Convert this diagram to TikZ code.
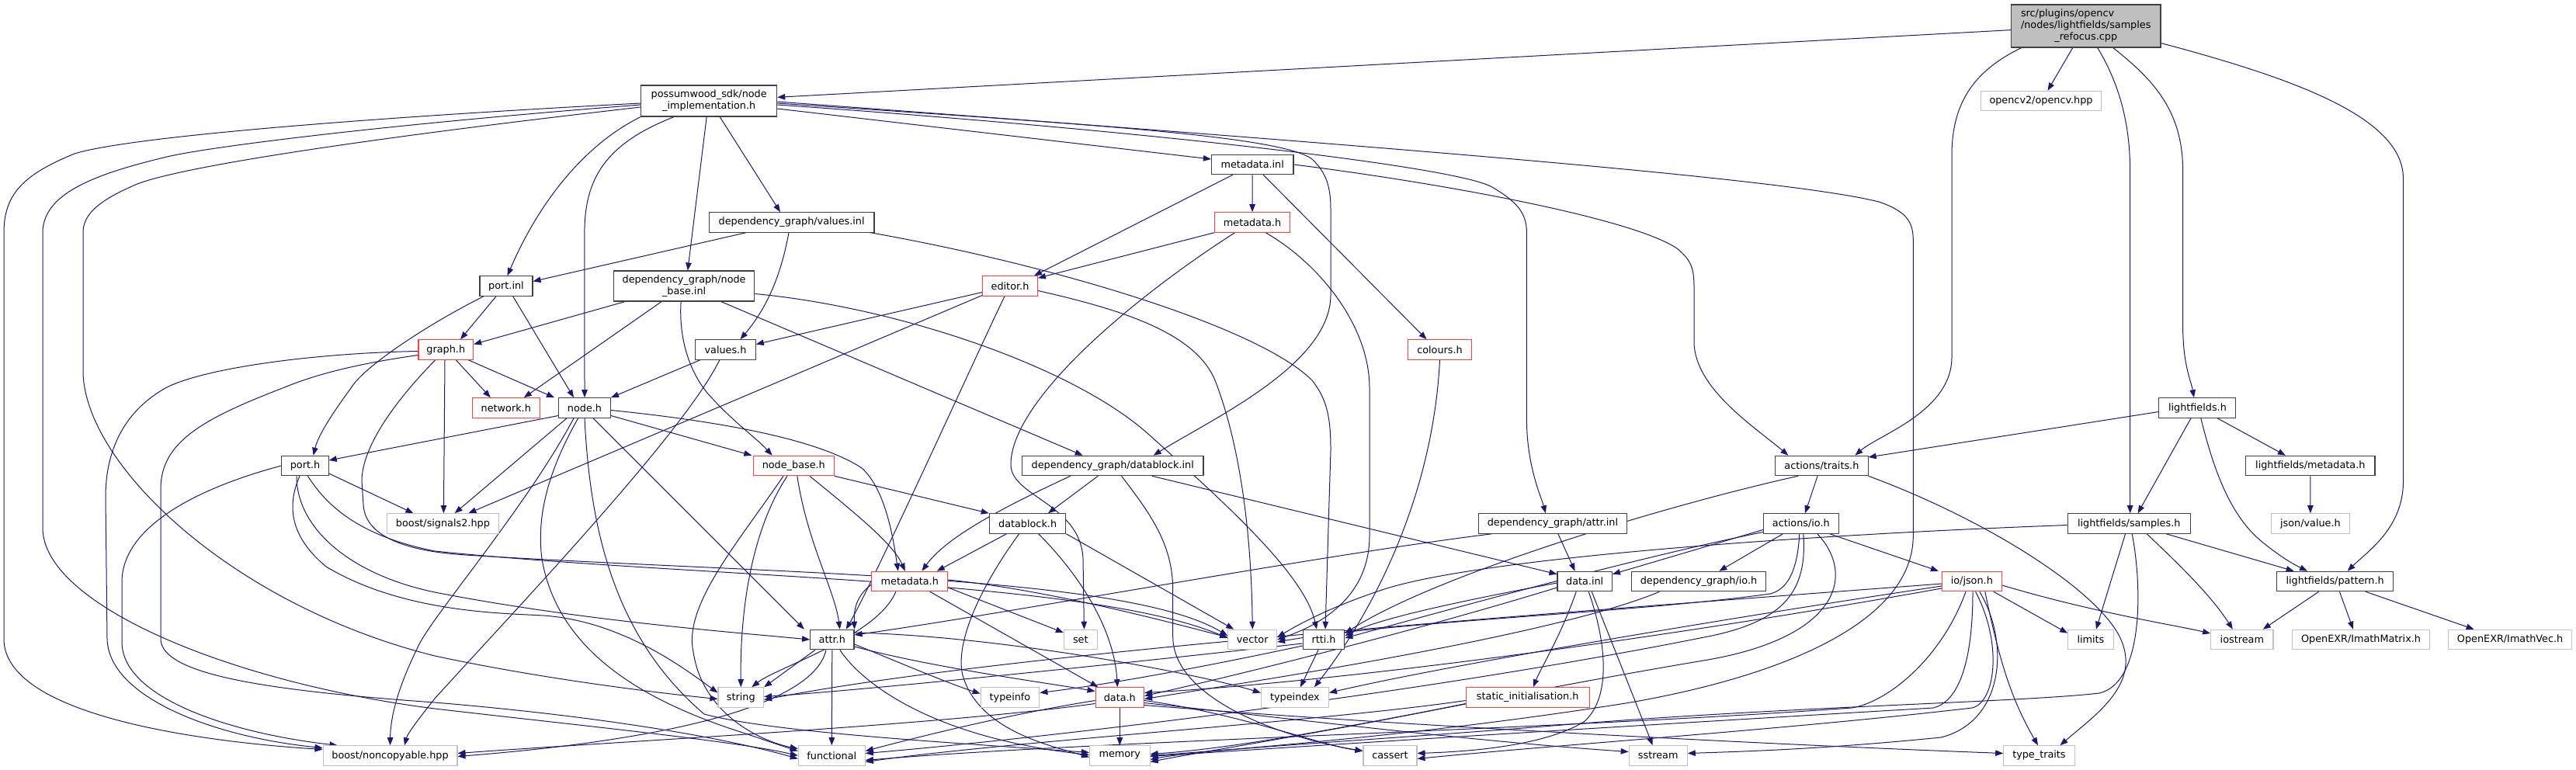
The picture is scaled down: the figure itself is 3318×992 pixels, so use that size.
\documentclass[tikz,border=0pt]{standalone}
\usepackage{fontspec}
\setmainfont{DejaVu Sans}
\usetikzlibrary{arrows.meta}
\definecolor{edgecol}{HTML}{191970}
\definecolor{docborder}{HTML}{404040}
\definecolor{redborder}{HTML}{FF4040}
\definecolor{extborder}{HTML}{BFBFBF}
\definecolor{srcfill}{HTML}{BFBFBF}
\pgfdeclarelayer{edgelayer}
\pgfsetlayers{edgelayer,main}
\begin{document}
\begin{tikzpicture}[x=1pt,y=-1pt,
  docbox/.style={draw=docborder, line width=1.1pt, fill=white, minimum height=25.5pt,
    inner xsep=3pt, inner ysep=1pt, font=\fontsize{12.8}{15.2}\selectfont, text=black},
  redbox/.style={docbox, draw=redborder},
  extbox/.style={docbox, draw=extborder},
  dep/.style={draw=edgecol, line width=1pt, -{Triangle[length=10pt,width=7.5pt]}}]
\useasboundingbox (0,0) rectangle (3318,992);

% ---------------- nodes ----------------
\node[docbox, fill=srcfill, minimum width=192.6pt, minimum height=55pt] (src) at (2686.7,33.5)
  {\begin{tabular}{@{}l@{}}src/plugins/opencv\\/nodes/lightfields/samples\\\multicolumn{1}{@{}c@{}}{\_refocus.cpp}\end{tabular}};
\node[docbox, minimum width=175pt, minimum height=40pt, align=center] (nimpl) at (913.2,130) {possumwood\_sdk/node\\\_implementation.h};
\node[extbox, minimum width=154.6pt] (opencv) at (2629,130) {opencv2/opencv.hpp};
\node[docbox, minimum width=105.6pt] (mdinl) at (1613.2,212) {metadata.inl};
\node[docbox, minimum width=212.8pt] (valinl) at (1019.6,286.5) {dependency\_graph/values.inl};
\node[redbox, minimum width=97.5pt] (mdhA) at (1613,286.5) {metadata.h};
\node[docbox, minimum width=68pt] (portinl) at (652,368.5) {port.inl};
\node[docbox, minimum width=181.4pt, minimum height=39pt, align=center] (nbinl) at (881.1,368.5) {dependency\_graph/node\\\_base.inl};
\node[redbox, minimum width=70.7pt] (editorh) at (1301,368.5) {editor.h};
\node[redbox, minimum width=70.6pt] (graphh) at (574.3,450.5) {graph.h};
\node[docbox, minimum width=77.5pt] (valuesh) at (934.5,450.5) {values.h};
\node[redbox, minimum width=81.8pt] (coloursh) at (1854.5,450.5) {colours.h};
\node[docbox, minimum width=99pt] (lfh) at (2830.4,525.5) {lightfields.h};
\node[redbox, minimum width=87.2pt] (networkh) at (651.8,525.5) {network.h};
\node[docbox, minimum width=66.8pt] (nodeh) at (753,525.5) {node.h};
\node[docbox, minimum width=60.3pt] (porth) at (393,600) {port.h};
\node[extbox, minimum width=144.3pt] (signals) at (570.4,674.5) {boost/signals2.hpp};
\node[redbox, minimum width=104pt] (nodebaseh) at (1022.3,600) {node\_base.h};
\node[docbox, minimum width=233.6pt] (dbinl) at (1433.2,600) {dependency\_graph/datablock.inl};
\node[docbox, minimum width=119.3pt] (traits) at (2346.4,600) {actions/traits.h};
\node[docbox, minimum width=166.4pt] (lfmeta) at (2975.8,600) {lightfields/metadata.h};
\node[docbox, minimum width=98.6pt] (datablockh) at (1323.6,674.5) {datablock.h};
\node[docbox, minimum width=191pt] (attrinl) at (1999.9,674.5) {dependency\_graph/attr.inl};
\node[docbox, minimum width=96.8pt] (ioh) at (2319.8,674.5) {actions/io.h};
\node[docbox, minimum width=158pt] (samples) at (2742.2,674.5) {lightfields/samples.h};
\node[extbox, minimum width=100.7pt] (jsonvalue) at (2975.9,674.5) {json/value.h};
\node[redbox, minimum width=97.8pt] (mdhB) at (1171.8,749) {metadata.h};
\node[docbox, minimum width=70.4pt] (datainl) at (2041.2,749) {data.inl};
\node[docbox, minimum width=173.2pt] (dgio) at (2188,749) {dependency\_graph/io.h};
\node[redbox, minimum width=76.8pt] (jsonh) at (2539.8,749) {io/json.h};
\node[docbox, minimum width=150pt] (pattern) at (3007.6,749) {lightfields/pattern.h};
\node[docbox, minimum width=56.4pt] (attrh) at (1071.8,824) {attr.h};
\node[extbox, minimum width=42.8pt] (seth) at (1391.8,824) {set};
\node[extbox, minimum width=62.8pt] (vec) at (1613.2,824) {vector};
\node[docbox, minimum width=53.6pt] (rtti) at (1705,824) {rtti.h};
\node[extbox, minimum width=58.5pt] (limits) at (2692.9,824) {limits};
\node[extbox, minimum width=80.4pt] (iostream) at (2887.8,824) {iostream};
\node[extbox, minimum width=177.5pt] (imatrix) at (3041,824) {OpenEXR/ImathMatrix.h};
\node[extbox, minimum width=159pt] (ivec) at (3233.1,824) {OpenEXR/ImathVec.h};
\node[extbox, minimum width=58.6pt] (stringh) at (954.3,898.5) {string};
\node[extbox, minimum width=75.7pt] (typeinfo) at (1301,898.5) {typeinfo};
\node[redbox, minimum width=62.5pt] (datah) at (1442.3,898.5) {data.h};
\node[extbox, minimum width=87pt] (typeindex) at (1667.9,898.5) {typeindex};
\node[redbox, minimum width=159pt] (staticinit) at (1967.7,898.5) {static\_initialisation.h};
\node[extbox, minimum width=172.9pt] (noncopy) at (502.5,973.5) {boost/noncopyable.hpp};
\node[extbox, minimum width=86pt] (func) at (1071.3,973.5) {functional};
\node[extbox, minimum width=77.5pt] (mem) at (1442.3,973.5) {memory};
\node[extbox, minimum width=69pt] (cassert) at (1790.5,973.5) {cassert};
\node[extbox, minimum width=75pt] (sstream) at (2135.7,973.5) {sstream};
\node[extbox, minimum width=91.4pt] (typetraits) at (2626.4,973.5) {type\_traits};

% ---------------- edges ----------------
\begin{pgfonlayer}{edgelayer}
% src
\draw[dep] (src) -- (nimpl);
\draw[dep] ([xshift=-17pt]src.south) -- ([xshift=8.5pt]opencv.north);
\draw[dep] ([xshift=-83pt]src.south) .. controls (2545,90) and (2514,130) .. (2514,200) -- (2514,460) .. controls (2514,530) and (2420,560) .. ([xshift=43pt]traits.north);
\draw[dep] ([xshift=15pt]src.south) .. controls (2725,100) and (2743.6,150) .. (2743.6,220) -- ([xshift=1.4pt]samples.north);
\draw[dep] ([xshift=35pt]src.south) .. controls (2770,100) and (2811.6,140) .. (2811.6,220) -- (2811.6,420) .. controls (2811.6,470) and (2822,490) .. ([xshift=-4.5pt]lfh.north);
\draw[dep] ([yshift=6pt]src.south east) .. controls (2950,100) and (3095.5,150) .. (3095.5,230) -- (3095.5,620) .. controls (3095.5,680) and (3050,710) .. ([xshift=16pt]pattern.north);
% node_implementation.h
\draw[dep] ([yshift=-3pt]nimpl.west) .. controls (500,150) and (170,175) .. (96,198) .. controls (30,225) and (5,250) .. (5,300) -- (5,823) .. controls (5,920) and (250,955) .. ([yshift=8pt]noncopy.west);
\draw[dep] ([yshift=-5pt]nimpl.west) .. controls (500,160) and (260,190) .. (211,203) .. controls (120,225) and (55,250) .. (55,300) -- (55,680) .. controls (55,780) and (300,880) .. (560,913) .. controls (750,935) and (950,955) .. (func.west);
\draw[dep] ([yshift=-8pt]nimpl.west) .. controls (500,175) and (220,215) .. (170,240) .. controls (120,262) and (107,280) .. (107,300) -- (107,480) .. controls (110,600) and (300,780) .. (560,845) .. controls (700,875) and (850,893) .. ([yshift=-2pt]stringh.west);
\draw[dep] (nimpl.south west) .. controls (746,190) and (690,270) .. ([xshift=1.6pt]portinl.north);
\draw[dep] ([xshift=-45pt]nimpl.south) .. controls (780,185) and (752.9,230) .. (752.9,300) -- (nodeh.north);
\draw[dep] ([xshift=-3pt]nimpl.south) -- ([xshift=4.7pt]nbinl.north);
\draw[dep] ([xshift=14pt]nimpl.south) -- ([xshift=-14.6pt]valinl.north);
\draw[dep] ([yshift=-10pt]nimpl.east) -- ([yshift=7pt]mdinl.west);
\draw[dep] ([yshift=-3pt]nimpl.east) .. controls (1400,160) and (1650,175) .. (1690,205) .. controls (1708,222) and (1714,240) .. (1714,270) -- (1714,380) .. controls (1714,470) and (1560,540) .. ([xshift=52.5pt]dbinl.north);
\draw[dep] ([yshift=-5pt]nimpl.east) .. controls (1500,170) and (1870,215) .. (1920,240) .. controls (1955,260) and (1966.4,275) .. (1966.4,300) -- (1966.4,540) .. controls (1966.4,600) and (1985,640) .. ([xshift=-9pt]attrinl.north);
\draw[dep] ([yshift=-1pt]nimpl.east) .. controls (1800,190) and (2300,230) .. (2420,260) .. controls (2455,272) and (2464.3,285) .. (2464.3,310) -- (2464.3,690) .. controls (2464.3,800) and (2300,870) .. (2100,905) .. controls (1850,945) and (1600,965) .. (mem.east);
% metadata.inl
\draw[dep] ([xshift=-25.5pt]mdinl.south) -- ([xshift=31pt]editorh.north);
\draw[dep] (mdinl) -- (mdhA);
\draw[dep] ([xshift=14pt]mdinl.south) -- ([xshift=-17pt]coloursh.north);
\draw[dep] (mdinl.east) .. controls (1850,235) and (2100,280) .. (2160,320) .. controls (2178,335) and (2182,345) .. (2182,370) -- (2182,440) .. controls (2182,500) and (2260,550) .. ([xshift=-43pt]traits.north);
% metadata.h (sdk)
\draw[dep] (mdhA.south west) -- ([yshift=-3pt]editorh.north east);
\draw[dep] ([xshift=-22.6pt]mdhA.south) .. controls (1450,390) and (1300,520) .. (1302,600) .. controls (1304,640) and (1392,650) .. (1395,720) -- ([xshift=4.6pt]seth.north);
\draw[dep] ([xshift=-32pt]mdhA.south east) .. controls (1700,340) and (1764,420) .. (1764,500) -- (1764,690) .. controls (1764,770) and (1700,805) .. (vec.east);
% values.inl
\draw[dep] ([xshift=-59pt]valinl.south) -- ([yshift=6pt]portinl.east);
\draw[dep] ([xshift=-3.6pt]valinl.south) .. controls (1005,360) and (985,400) .. ([xshift=19pt]valuesh.north);
\draw[dep] ([xshift=-5pt]valinl.south east) .. controls (1350,340) and (1620,420) .. (1690,490) .. controls (1710,515) and (1714,540) .. (1714,580) -- ([xshift=2pt]rtti.north);
% port.inl
\draw[dep] ([xshift=-13pt]portinl.south) -- ([xshift=18.7pt]graphh.north);
\draw[dep] ([xshift=8.7pt]portinl.south) -- ([xshift=-14pt]nodeh.north);
\draw[dep] ([xshift=-29pt]portinl.south) .. controls (560,413) and (470,470) .. (452,500) .. controls (430,530) and (410,560) .. ([xshift=10.6pt]porth.north);
% node_base.inl
\draw[dep] ([xshift=-76pt]nbinl.south) -- ([yshift=7pt]graphh.east);
\draw[dep] ([xshift=-29pt]nbinl.south) -- ([xshift=23pt]networkh.north);
\draw[dep] ([xshift=-4pt]nbinl.south) .. controls (874,440) and (890,480) .. (910,505) .. controls (940,540) and (975,565) .. ([xshift=-27.7pt]nodebaseh.north);
\draw[dep] ([xshift=47.6pt]nbinl.south) -- ([xshift=-38.6pt]dbinl.north);
\draw[dep] ([yshift=-10pt]nbinl.east) .. controls (1150,395) and (1380,470) .. (1480,560) .. controls (1580,650) and (1680,740) .. ([xshift=-9pt]rtti.north);
% editor.h
\draw[dep] ([yshift=-8pt]editorh.west) -- ([yshift=7pt]valuesh.east);
\draw[dep] ([yshift=-12pt]editorh.west) -- ([xshift=33pt]signals.north);
\draw[dep] ([xshift=-7pt]editorh.south) .. controls (1270,430) and (1130,740) .. ([xshift=18pt]attrh.north);
\draw[dep] ([yshift=-6pt]editorh.east) .. controls (1450,400) and (1540,430) .. (1565,490) .. controls (1600,580) and (1612,700) .. (vec.north);
% graph.h
\draw[dep] ([xshift=13pt]graphh.south) -- ([xshift=-20pt]networkh.north);
\draw[dep] ([xshift=29pt]graphh.south) -- ([xshift=-39pt]nodeh.north);
\draw[dep] ([xshift=-1.3pt]graphh.south) -- ([xshift=1pt]signals.north);
\draw[dep] ([yshift=-2pt]graphh.west) .. controls (400,455) and (260,475) .. (213,500) .. controls (160,530) and (136,580) .. (136,640) -- (138,823) .. controls (140,900) and (280,950) .. ([yshift=10pt]noncopy.west);
\draw[dep] ([yshift=-7pt]graphh.west) .. controls (450,470) and (400,485) .. (364,500) .. controls (260,540) and (207,570) .. (207,630) -- (207,823) .. controls (207,870) and (350,890) .. (560,905) .. controls (800,925) and (950,955) .. ([yshift=-4pt]func.west);
\draw[dep] ([xshift=-13.6pt]graphh.south) .. controls (545,480) and (466,560) .. (466,620) -- (468,650) .. controls (470,690) and (520,710) .. (600,715) .. controls (1000,740) and (1450,740) .. ([yshift=5pt]vec.west);
% port.h
\draw[dep] (porth.west) .. controls (250,630) and (157,680) .. (157,750) -- (157,827) .. controls (157,900) and (300,945) .. ([xshift=-68pt]noncopy.north);
\draw[dep] ([yshift=-10pt]porth.east) -- ([xshift=-38pt]signals.north);
\draw[dep] ([xshift=3.4pt]porth.south) .. controls (420,650) and (460,690) .. (560,710) .. controls (900,745) and (1400,745) .. ([yshift=2pt]vec.west);
\draw[dep] ([xshift=-11pt]porth.south) .. controls (382,680) and (450,740) .. (560,763) .. controls (750,800) and (950,815) .. (attrh.west);
\draw[dep] ([xshift=-7pt]porth.south) .. controls (370,650) and (372,690) .. (420,730) .. controls (520,790) and (650,790) .. (700,793) .. controls (800,800) and (880,860) .. ([yshift=6pt]stringh.west);
% node.h
\draw[dep] ([yshift=-10pt]nodeh.west) -- ([yshift=7pt]porth.east);
\draw[dep] ([xshift=-23pt]nodeh.south) -- ([xshift=15.3pt]signals.north);
\draw[dep] ([xshift=-14pt]nodeh.south) .. controls (680,650) and (560,790) .. (540,830) .. controls (515,880) and (503,920) .. (noncopy.north);
\draw[dep] ([xshift=-8.4pt]nodeh.south) .. controls (710,600) and (690,660) .. (698,720) .. controls (720,850) and (850,910) .. (960,945) .. controls (990,955) and (1010,962) .. ([yshift=6pt]func.west);
\draw[dep] (nodeh.south) .. controls (760,680) and (790,820) .. (907,920) .. controls (1000,945) and (1250,958) .. ([yshift=4pt]mem.west);
\draw[dep] ([xshift=11pt]nodeh.south) -- ([xshift=-36pt]attrh.north);
\draw[dep] ([yshift=-10pt]nodeh.east) -- ([xshift=-54pt]nodebaseh.north);
\draw[dep] ([yshift=-3pt]nodeh.east) .. controls (950,545) and (1060,570) .. (1110,603) .. controls (1140,630) and (1150,690) .. ([xshift=-15pt]mdhB.north);
% values.h
\draw[dep] ([xshift=-32.7pt]valuesh.south) -- (nodeh.north east);
\draw[dep] ([xshift=-7.7pt]valuesh.south) .. controls (880,560) and (650,800) .. (560,900) .. controls (540,925) and (525,945) .. ([xshift=18.5pt]noncopy.north);
% node_base.h
\draw[dep] (nodebaseh.south east) -- (datablockh.north west);
\draw[dep] ([xshift=20.6pt]nodebaseh.south) .. controls (1100,660) and (1150,700) .. ([xshift=-6pt]mdhB.north);
\draw[dep] ([xshift=-8.3pt]nodebaseh.south) .. controls (970,680) and (953,780) .. (stringh.north);
\draw[dep] ([xshift=-13.3pt]nodebaseh.south) .. controls (950,700) and (880,780) .. (893,840) .. controls (905,920) and (980,955) .. ([yshift=9pt]func.west);
\draw[dep] ([xshift=4.5pt]nodebaseh.south) .. controls (1040,700) and (1075,760) .. ([xshift=10pt]attrh.north);
% datablock.inl
\draw[dep] ([xshift=-54.6pt]dbinl.south) .. controls (1300,650) and (1220,690) .. ([xshift=15.7pt]mdhB.north);
\draw[dep] ([xshift=-19pt]dbinl.south) -- ([xshift=26.4pt]datablockh.north);
\draw[dep] ([xshift=11.4pt]dbinl.south) .. controls (1480,660) and (1510.7,700) .. (1510.7,760) -- (1510.7,820) .. controls (1510.7,900) and (1650,950) .. ([yshift=6pt]cassert.west);
\draw[dep] ([xshift=50.8pt]dbinl.south) -- ([yshift=-4pt]datainl.north west);
% datablock.h
\draw[dep] ([xshift=-27.2pt]datablockh.south) -- ([xshift=35pt]mdhB.north);
\draw[dep] ([xshift=-11pt]datablockh.south) .. controls (1260,760) and (1230,830) .. (1240,870) .. controls (1260,940) and (1350,960) .. ([yshift=-2pt]mem.west);
\draw[dep] ([xshift=14pt]datablockh.south) .. controls (1390,740) and (1435,810) .. ([xshift=-3pt]datah.north);
\draw[dep] (datablockh.south east) -- ([xshift=-24pt]vec.north);
% attr.inl
\draw[dep] ([xshift=7pt]attrinl.south) -- ([xshift=-12.6pt]datainl.north);
\draw[dep] ([xshift=-78.5pt]attrinl.south) .. controls (1700,715) and (1300,790) .. ([yshift=6pt]attrh.east);
% traits.h
\draw[dep] ([xshift=-5.4pt]traits.south) -- ([xshift=5.2pt]ioh.north);
\draw[dep] ([xshift=-30.4pt]traits.south) .. controls (2150,650) and (1850,740) .. ([yshift=8pt]rtti.east);
\draw[dep] (traits.south east) .. controls (2560,670) and (2700,760) .. (2730,820) .. controls (2760,880) and (2700,920) .. ([xshift=27pt]typetraits.north);
% lightfields.h
\draw[dep] ([yshift=-5pt]lfh.west) -- ([yshift=11pt]traits.east);
\draw[dep] ([xshift=-8.4pt]lfh.south) -- ([xshift=11.4pt]samples.north);
\draw[dep] ([xshift=25.6pt]lfh.south) -- ([xshift=-32pt]lfmeta.north);
\draw[dep] ([xshift=4.4pt]lfh.south) .. controls (2850,600) and (2870,660) .. (2910,695) .. controls (2930,712) and (2950,725) .. ([xshift=-35.6pt]pattern.north);
\draw[dep] (lfmeta) -- (jsonvalue);
% samples.h
\draw[dep] ([xshift=48pt]samples.south) -- ([xshift=-53pt]pattern.north);
\draw[dep] ([xshift=23pt]samples.south) .. controls (2810,730) and (2850,770) .. ([xshift=-12pt]iostream.north);
\draw[dep] ([xshift=-4.7pt]samples.south) -- ([xshift=7pt]limits.north);
\draw[dep] ([yshift=-2pt]samples.west) .. controls (2300,690) and (1900,720) .. (1780,760) .. controls (1720,780) and (1680,800) .. ([yshift=3pt]vec.east);
\draw[dep] ([xshift=4pt]samples.south) .. controls (2760,760) and (2760,880) .. (2704,893) .. controls (2600,905) and (2300,910) .. (2000,935) .. controls (1750,955) and (1550,965) .. ([yshift=-5pt]mem.east);
% pattern.h
\draw[dep] ([xshift=-21pt]pattern.south) -- ([xshift=27pt]iostream.north);
\draw[dep] ([xshift=5.8pt]pattern.south) -- ([xshift=-10pt]imatrix.north);
\draw[dep] ([xshift=39.4pt]pattern.south) -- ([xshift=-46.5pt]ivec.north);
% actions/io.h
\draw[dep] ([yshift=-8pt]ioh.west) -- ([yshift=-4pt]datainl.north east);
\draw[dep] ([yshift=-11pt]ioh.west) .. controls (2100,720) and (1850,790) .. ([yshift=2pt]rtti.east);
\draw[dep] ([xshift=-23.4pt]ioh.south) -- ([xshift=26.3pt]dgio.north);
\draw[dep] ([xshift=37pt]ioh.south) -- ([xshift=-43pt]jsonh.north);
\draw[dep] ([xshift=-2pt]ioh.south) .. controls (2315,740) and (2300,760) .. (2280,765) .. controls (2100,790) and (1800,800) .. ([yshift=-3pt]vec.east);
\draw[dep] ([xshift=3pt]ioh.south) .. controls (2328,760) and (2300,800) .. (2200,820) .. controls (1800,900) and (1300,955) .. ([yshift=3pt]func.east);
\draw[dep] ([xshift=21pt]ioh.south) .. controls (2390,740) and (2370,820) .. (2200,850) .. controls (1900,900) and (1650,960) .. ([yshift=2pt]mem.east);
% io/json.h
\draw[dep] ([yshift=-3pt]jsonh.west) .. controls (2000,790) and (1300,840) .. ([yshift=-3pt]stringh.east);
\draw[dep] ([yshift=-6pt]jsonh.west) .. controls (2200,800) and (1850,860) .. ([yshift=6pt]typeindex.east);
\draw[dep] ([yshift=-9pt]jsonh.west) .. controls (2100,830) and (1700,880) .. ([yshift=6pt]datah.east);
\draw[dep] ([xshift=-7.8pt]jsonh.south) .. controls (2500,850) and (2430,905) .. (2385,912) .. controls (2000,940) and (1400,955) .. ([yshift=-6pt]func.east);
\draw[dep] ([xshift=1.2pt]jsonh.south) .. controls (2541,860) and (2520,905) .. (2490,912) .. controls (2100,935) and (1700,960) .. ([yshift=-1pt]mem.east);
\draw[dep] ([xshift=4.8pt]jsonh.south) .. controls (2580,830) and (2570,905) .. (2540,912) .. controls (2300,940) and (2000,960) .. ([yshift=-4pt]cassert.east);
\draw[dep] ([xshift=10pt]jsonh.south) .. controls (2590,830) and (2580,930) .. (2500,950) .. controls (2350,965) and (2250,968) .. ([yshift=3pt]sstream.east);
\draw[dep] ([xshift=17pt]jsonh.south) .. controls (2575,850) and (2590,900) .. ([xshift=-1.4pt]typetraits.north);
\draw[dep] ([xshift=28pt]jsonh.south) -- ([yshift=-5pt]limits.north west);
\draw[dep] ([yshift=-5pt]jsonh.east) .. controls (2700,790) and (2800,805) .. ([yshift=8pt]iostream.west);
% data.inl
\draw[dep] ([xshift=-11pt]datainl.south) .. controls (2010,820) and (1985,860) .. ([xshift=7pt]staticinit.north);
\draw[dep] ([xshift=5pt]datainl.south) .. controls (2070,830) and (2075,900) .. (2040,930) .. controls (1990,960) and (1900,968) .. ([yshift=3pt]cassert.east);
\draw[dep] ([xshift=9pt]datainl.south) -- ([xshift=-7pt]sstream.north);
\draw[dep] ([yshift=-8pt]datainl.west) .. controls (1800,820) and (1550,880) .. ([yshift=2pt]datah.east);
\draw[dep] ([yshift=-2pt]datainl.west) .. controls (1850,780) and (1770,800) .. ([yshift=5pt]rtti.east);
% dependency_graph/io.h
\draw[dep] ([xshift=-50.5pt]dgio.south) .. controls (2000,820) and (1600,880) .. ([yshift=-2pt]datah.east);
% static_initialisation.h
\draw[dep] ([yshift=-4pt]staticinit.west) .. controls (1700,930) and (1300,955) .. ([yshift=-8pt]func.east);
\draw[dep] ([yshift=-8pt]staticinit.west) .. controls (1700,945) and (1550,968) .. ([yshift=-8pt]mem.east);
% data.h
\draw[dep] (datah.south) -- (mem.north);
\draw[dep] ([yshift=-4pt]datah.west) .. controls (1300,920) and (1180,950) .. ([yshift=6pt]func.east);
\draw[dep] ([yshift=-8pt]datah.west) .. controls (1200,935) and (800,955) .. ([yshift=3pt]noncopy.east);
\draw[dep] ([yshift=-4pt]datah.east) .. controls (1600,920) and (1700,960) .. ([yshift=6pt]cassert.west);
\draw[dep] ([yshift=-7pt]datah.east) .. controls (1700,930) and (1900,955) .. ([yshift=5pt]sstream.west);
\draw[dep] ([yshift=-10pt]datah.east) .. controls (1800,935) and (2300,960) .. ([yshift=3pt]typetraits.west);
% rtti.h
\draw[dep] ([yshift=-5pt]rtti.west) .. controls (1400,860) and (1100,890) .. ([yshift=1pt]stringh.east);
\draw[dep] ([yshift=-8pt]rtti.west) .. controls (1500,870) and (1400,885) .. ([yshift=6pt]typeinfo.east);
\draw[dep] ([xshift=-7pt]rtti.south) -- ([xshift=7pt]typeindex.north);
% colours.h
\draw[dep] (coloursh.south) .. controls (1845,650) and (1760,800) .. ([xshift=25pt]typeindex.north);
% attr.h
\draw[dep] ([xshift=-21.8pt]attrh.south) -- (stringh.north east);
\draw[dep] ([xshift=-7.8pt]attrh.south) .. controls (1050,900) and (900,950) .. ([yshift=-1pt]noncopy.east);
\draw[dep] (attrh.south) -- (func.north);
\draw[dep] ([xshift=10pt]attrh.south) .. controls (1110,880) and (1200,950) .. ([yshift=1pt]mem.west);
\draw[dep] ([yshift=-6pt]attrh.east) .. controls (1150,850) and (1220,880) .. ([yshift=5pt]typeinfo.west);
\draw[dep] ([yshift=-9pt]attrh.east) .. controls (1200,860) and (1350,880) .. ([yshift=8pt]datah.west);
\draw[dep] ([yshift=9pt]attrh.east) .. controls (1300,820) and (1550,870) .. ([yshift=6pt]typeindex.west);
% metadata.h (dependency_graph)
\draw[dep] ([xshift=-18pt]mdhB.south) .. controls (1130,820) and (1000,860) .. ([xshift=14pt]stringh.north);
\draw[dep] ([xshift=26pt]mdhB.south) -- ([xshift=-28pt]datah.north);
\draw[dep] ([yshift=-8pt]mdhB.east) -- ([yshift=9pt]seth.west);
\draw[dep] ([yshift=2pt]mdhB.east) .. controls (1350,760) and (1500,800) .. ([yshift=3pt]vec.west);
\draw[dep] ([yshift=-4pt]mdhB.west) .. controls (1100,770) and (1100,790) .. (attrh.north east);
\end{pgfonlayer}
\end{tikzpicture}
\end{document}
